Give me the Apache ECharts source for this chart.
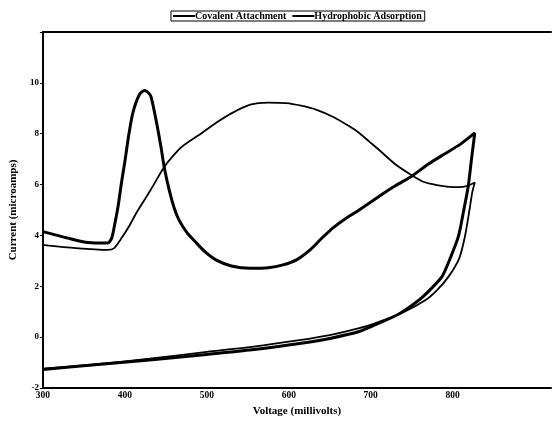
<!DOCTYPE html>
<html>
<head>
<meta charset="utf-8">
<script src="https://cdn.jsdelivr.net/npm/echarts@6/dist/echarts.min.js"></script>
<style>
html,body{margin:0;padding:0;background:#fff;}
#chart{width:554px;height:422px;}
</style>
</head>
<body>
<div id="chart"></div>
<script>
// voltage sweep (mV) and current (microamps), forward then return
var covalentVolts = [300,330,355,379,384,388,392,396,400,405,410,418,424,429,432,438,444,448,454,460,466,476,486,498,511,530,553,575,593,610,626,640,654,670,686,710,730,751,770,790,810,827,
	823,819,813,807,797,787,772,759,735,710,686,650,613,555,500,430,360,300];
var covalentCurrent = [4.15,3.9,3.72,3.7,3.9,4.5,5.2,6.1,6.9,8.0,8.85,9.55,9.7,9.6,9.45,8.55,7.5,6.69,5.8,5.1,4.61,4.1,3.75,3.35,3.04,2.8,2.71,2.73,2.84,3.05,3.43,3.88,4.3,4.68,5.0,5.53,5.95,6.35,6.8,7.2,7.6,8.03,
	7.0,5.93,4.9,3.96,3.1,2.38,1.85,1.46,0.92,0.55,0.22,-0.05,-0.25,-0.5,-0.68,-0.9,-1.1,-1.27];
var hydroVolts = [300,340,379,387,395,405,414,425,434,448,458,470,494,511,530,553,575,597,615,634,655,674,686,698,710,730,751,765,779,793,807,818,827,
	824,820,815,808,795,781,767,740,710,686,650,613,555,500,430,360,300];
var hydroCurrent = [3.63,3.5,3.43,3.5,3.85,4.35,4.88,5.45,5.93,6.69,7.1,7.5,8.03,8.42,8.8,9.14,9.22,9.2,9.1,8.94,8.65,8.29,8.03,7.7,7.37,6.8,6.35,6.1,5.99,5.92,5.9,5.95,6.08,
	5.7,4.9,3.96,3.1,2.38,1.85,1.46,0.98,0.6,0.35,0.08,-0.12,-0.38,-0.58,-0.85,-1.08,-1.24];
var seriesNames = ["Covalent Attachment","Hydrophobic Adsorption"];

function toPairs(xs,ys){
	var out=[];
	for(var i=0;i<xs.length;i++){
		out.push([xs[i],ys[i]]);
	}
	return out;
}

var serifFont = '"Liberation Serif","DejaVu Serif",serif';
var myChart = echarts.init(document.getElementById('chart'));
myChart.setOption({
	animation:false,
	backgroundColor:'#fff',
	color:['#000','#000'],
	legend:{//top legend with a box
		data:seriesNames,
		top:11,
		left:171,
		itemWidth:22,
		itemHeight:10,
		itemGap:5,
		padding:[0,3,0,1],
		borderColor:'#000',
		borderWidth:1,
		itemStyle:{opacity:0},
		textStyle:{fontFamily:serifFont,fontWeight:'bold',fontSize:10,color:'#000',padding:[0,0,0,-5]}
	},
	grid:{left:41,top:32,right:0,bottom:34},
	xAxis:[{
		type:'value',
		min:300,
		max:920,
		interval:100,
		name:'Voltage (millivolts)',
		nameLocation:'middle',
		nameGap:15,
		nameTextStyle:{fontFamily:serifFont,fontWeight:'bold',fontSize:11,color:'#000'},
		axisLine:{onZero:false,lineStyle:{color:'#000',width:2}},
		axisTick:{show:false},
		splitLine:{show:false},
		axisLabel:{
			fontFamily:serifFont,fontWeight:'bold',fontSize:9.5,color:'#000',margin:3,
			formatter:function(v){ return v>850 ? '' : v; }
		}
	},{
		type:'value',position:'top',min:300,max:920,
		axisLine:{show:true,onZero:false,lineStyle:{color:'#000',width:2}},
		axisTick:{show:false},axisLabel:{show:false},splitLine:{show:false}
	}],
	yAxis:{
		type:'value',
		min:-2,
		max:12,
		interval:2,
		name:'Current (microamps)',
		nameLocation:'middle',
		nameGap:15,
		nameTextStyle:{fontFamily:serifFont,fontWeight:'bold',fontSize:11,color:'#000'},
		axisLine:{show:true,onZero:false,lineStyle:{color:'#000',width:2}},
		axisTick:{show:true,length:3,lineStyle:{color:'#000',width:1}},
		splitLine:{show:false},
		axisLabel:{
			fontFamily:serifFont,fontWeight:'bold',fontSize:9,color:'#000',margin:4,
			formatter:function(v){ return v>=12 ? '' : v; }
		}
	},
	series:[{
		name:seriesNames[0],
		type:'line',
		data:toPairs(covalentVolts,covalentCurrent),
		symbol:'none',
		smooth:0.25,
		lineStyle:{color:'#000',width:3}
	},{
		name:seriesNames[1],
		type:'line',
		data:toPairs(hydroVolts,hydroCurrent),
		symbol:'none',
		smooth:0.25,
		lineStyle:{color:'#000',width:1.8}
	}]
});
</script>
</body>
</html>
